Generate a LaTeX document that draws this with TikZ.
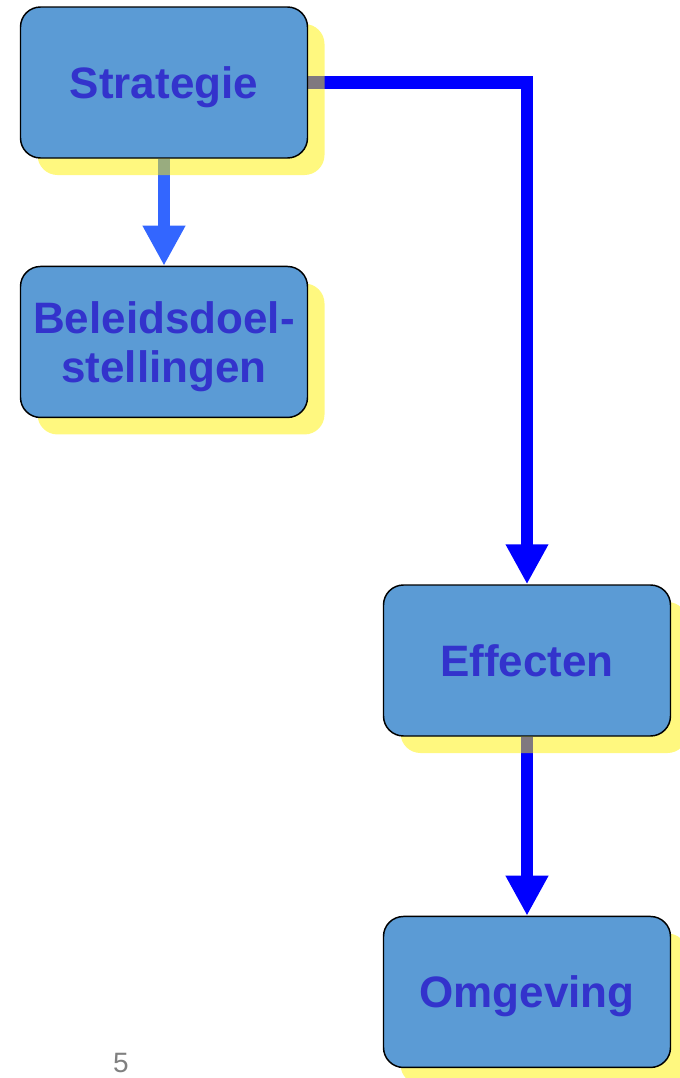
\documentclass[tikz,border=0pt]{standalone}
\usepackage{fontspec}
\setmainfont{Liberation Sans}
\usetikzlibrary{arrows.meta,positioning,shadows}

\definecolor{boxblue}{RGB}{91,155,213}
\definecolor{textblue}{RGB}{51,51,204}
\definecolor{lightarrow}{RGB}{51,102,255}
\definecolor{pagegray}{RGB}{128,128,128}

\pgfdeclarelayer{back}
\pgfsetlayers{back,main}

\begin{document}
\begin{tikzpicture}[>={Triangle[length=30pt,width=30pt]}]

            \tikzstyle{box}=[rectangle,rounded corners=15pt,draw=black,line width=1.1pt,fill=boxblue,
                             minimum width=215.25pt,minimum height=113.25pt,align=center,text depth=0pt,
                             text=textblue,font=\fontsize{33}{37}\selectfont\bfseries,
                             drop shadow={shadow xshift=12.75pt,shadow yshift=-12.75pt,fill=yellow,opacity=0.5}]
            \tikzstyle{link}=[->,line width=9.5pt]

            \useasboundingbox (0,0) rectangle (509.25pt,-808.5pt);

            \node[box] (strat) at (123pt,-61.875pt) {Strategie};
            \node[box] (beleid) [below=80.25pt of strat] {Beleidsdoel-\\stellingen};
            \node[box] (eff) at (395.25pt,-495.375pt) {Effecten};
            \node[box] (omg) [below=134.25pt of eff] {Omgeving};

            \node[text=pagegray,font=\fontsize{21}{22}\selectfont] (page) at (90.75pt,-797.5pt) {5};

            \begin{pgfonlayer}{back}
            \draw[link,lightarrow] (strat.south) -- (beleid.north);
            \draw[link,blue] (strat.east) -| (eff.north);
            \draw[link,blue] (eff.south) -- (omg.north);
            \end{pgfonlayer}
        \end{tikzpicture}
\end{document}
